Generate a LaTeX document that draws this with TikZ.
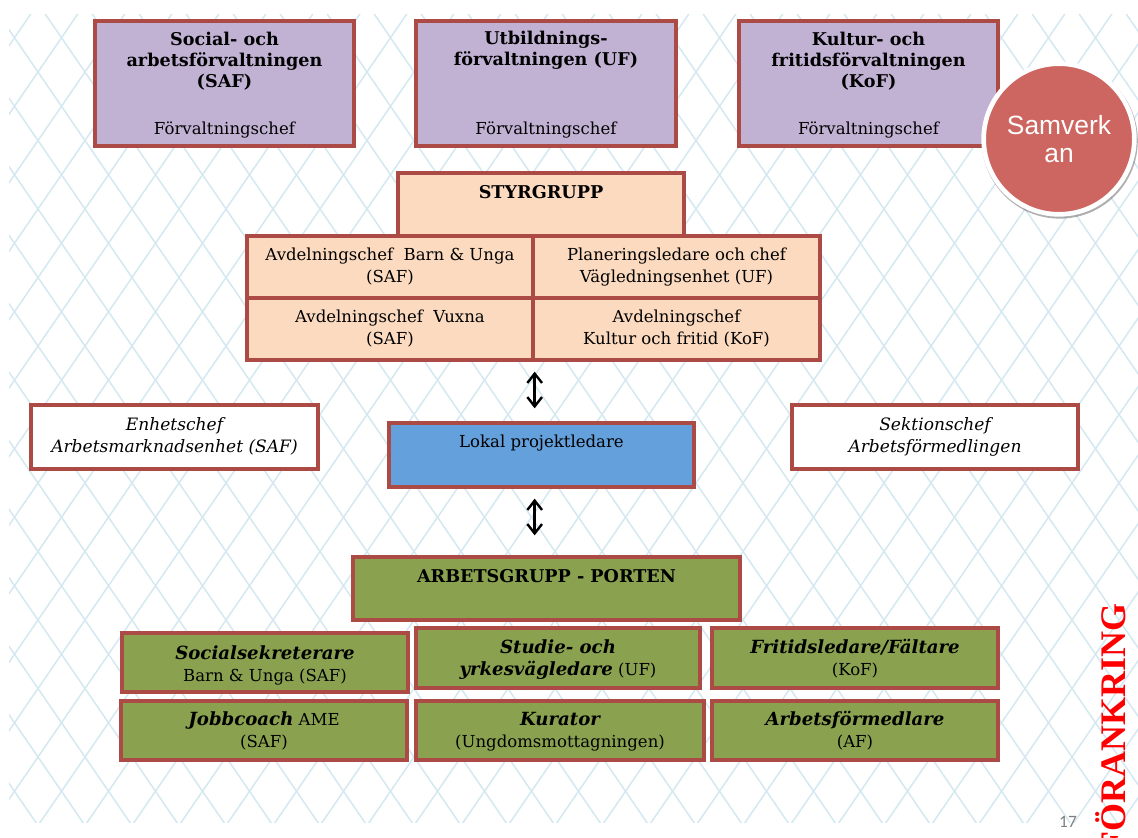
\documentclass[tikz,border=0pt]{standalone}
\usepackage{fontspec}
\setmainfont{DejaVu Serif}
\newfontfamily\sansf{Liberation Sans}
\newfontfamily\carl{Carlito}
\newfontfamily\timesf{Liberation Serif}
\usetikzlibrary{fit,shadows,arrows.meta}
\definecolor{bord}{RGB}{172,74,70}
\definecolor{purp}{RGB}{193,178,212}
\definecolor{peach}{RGB}{251,218,191}
\definecolor{lblue}{RGB}{100,160,220}
\definecolor{olive}{RGB}{138,161,80}
\definecolor{circ}{RGB}{205,101,96}
\definecolor{patc}{RGB}{212,232,241}
\newcommand\txt{\fontsize{12.4}{16.5}\selectfont}
\newcommand\bitx[1]{{\fontsize{13.6}{16.5}\selectfont\bfseries\itshape #1}}
\tikzset{
  bx/.style={draw=bord, line width=2.5pt, inner sep=0pt},
  pbox/.style={bx, fill=purp},
  sbox/.style={bx, fill=peach},
  wbox/.style={bx, fill=white},
  bbox/.style={bx, fill=lblue},
  gbox/.style={bx, fill=olive},
  tx/.style={font=\txt, align=center, inner sep=0pt, anchor=base},
  itx/.style={tx, font=\fontsize{12.8}{16.5}\selectfont\itshape},
  btx/.style={tx, font=\fontsize{13.2}{16.1}\selectfont\bfseries},
  pat/.style={draw=patc, line width=1.1pt},
  tipb/.tip={Straight Barb[length=7pt,width=11pt,line width=1.8pt]},
  dbl/.style={line width=1.8pt, tipb-tipb}
}
\begin{document}
\begin{tikzpicture}[x=0.75pt,y=-0.75pt]
\useasboundingbox (0,0) rectangle (1138,838);
\fill[white] (0,0) rectangle (1138,838);
% background lattice
\begin{scope}
\clip (9,15) rectangle (1138,822);
\foreach \k in {-14,...,37}{
  \draw[pat] ({38+47*\k-47},3.5) -- ++(587.5,856.25);
  \draw[pat] ({38+47*\k+47},3.5) -- ++(-587.5,856.25);
}
\end{scope}
% top boxes
\node[pbox, fit={(95,21) (354,146)}] (saf) {};
\node[pbox, fit={(416,21) (676,146)}] (uf) {};
\node[pbox, fit={(739,21) (998,146)}] (kof) {};
\node[btx] (saft) at (224.5,88) {Social- och\\arbetsförvaltningen\\(SAF)};
\node[tx] (safc) at (224.5,135) {Förvaltningschef};
\node[btx] (uft) at (546,66) {Utbildnings-\\förvaltningen (UF)};
\node[tx] (ufc) at (546,135) {Förvaltningschef};
\node[btx] (koft) at (868.5,88) {Kultur- och\\fritidsförvaltningen\\(KoF)};
\node[tx] (kofc) at (868.5,135) {Förvaltningschef};
% Samverkan circle
\node[circle, fill=circ, draw=white, line width=3.5pt, minimum size=113pt, inner sep=0pt,
      align=center, text=white, font=\sansf\fontsize{19.8}{20.5}\selectfont,
      drop shadow={shadow xshift=0.6pt, shadow yshift=-1.2pt, shadow scale=1.035, opacity=0.45, fill=black!70}]
      (samv) at (1059,139) {Samverk\\an};
% styrgrupp
\node[sbox, fit={(398,173) (684,236)}] (styr) {};
\node[btx] (styrt) at (541,198) {STYRGRUPP};
\node[sbox, fit={(247,236) (533,298)}] (c11) {};
\node[sbox, fit={(533,236) (820,298)}] (c12) {};
\node[sbox, fit={(247,298) (533,360)}] (c21) {};
\node[sbox, fit={(533,298) (820,360)}] (c22) {};
\node[tx] (c11t) at (390,282) {Avdelningschef\ \ Barn \& Unga\\(SAF)};
\node[tx] (c12t) at (676.5,282) {Planeringsledare och chef\\Vägledningsenhet (UF)};
\node[tx] (c21t) at (390,344) {Avdelningschef\ \ Vuxna\\(SAF)};
\node[tx] (c22t) at (676.5,344) {Avdelningschef\\Kultur och fritid (KoF)};
% middle row
\node[wbox, fit={(31,405) (318,469)}] (enh) {};
\node[wbox, fit={(792,405) (1078,469)}] (sekt) {};
\node[itx] (enht) at (174.5,452) {Enhetschef\\Arbetsmarknadsenhet (SAF)};
\node[itx] (sektt) at (935,452) {Sektionschef\\Arbetsförmedlingen};
\node[bbox, fit={(389,423) (694,487)}] (lokal) {};
\node[tx] (lokalt) at (541.5,447) {Lokal projektledare};
% arbetsgrupp
\node[gbox, fit={(353,557) (740,620)}] (arb) {};
\node[btx] (arbt) at (546.5,582) {ARBETSGRUPP - PORTEN};
\node[gbox, fit={(122,633) (408,692)}] (g11) {};
\node[gbox, fit={(416,628) (700,688)}] (g12) {};
\node[gbox, fit={(712,628) (998,688)}] (g13) {};
\node[gbox, fit={(121,701) (407,760)}] (g21) {};
\node[gbox, fit={(416,701) (704,760)}] (g22) {};
\node[gbox, fit={(712,701) (998,760)}] (g23) {};
\node[tx] (g11t) at (265,681) {\bitx{Socialsekreterare}\\Barn \& Unga (SAF)};
\node[tx] (g12t) at (558,675) {\bitx{Studie- och}\\\bitx{yrkesvägledare} (UF)};
\node[tx] (g13t) at (855,675) {\bitx{Fritidsledare/Fältare}\\(KoF)};
\node[tx] (g21t) at (264,747) {\bitx{Jobbcoach} AME\\(SAF)};
\node[tx] (g22t) at (560,747) {\bitx{Kurator}\\(Ungdomsmottagningen)};
\node[tx] (g23t) at (855,747) {\bitx{Arbetsförmedlare}\\(AF)};
% arrows
\draw[dbl, shorten <=7.5pt, shorten >=9.75pt] (c21.south east) -- (c21.south east |- lokal.north);
\draw[dbl, shorten <=7.5pt, shorten >=15pt] (c21.south east |- lokal.south) -- (c21.south east |- arb.north);
% side texts
\node[rotate=90, anchor=base east, inner sep=0pt, text=red, font=\timesf\bfseries\fontsize{27}{30}\selectfont] (fork) at (1125,603) {FÖRANKRING};
\node[text=gray, font=\carl\fontsize{13}{15}\selectfont, inner sep=0pt] (pnum) at (1068,822) {17};
\end{tikzpicture}
\end{document}
